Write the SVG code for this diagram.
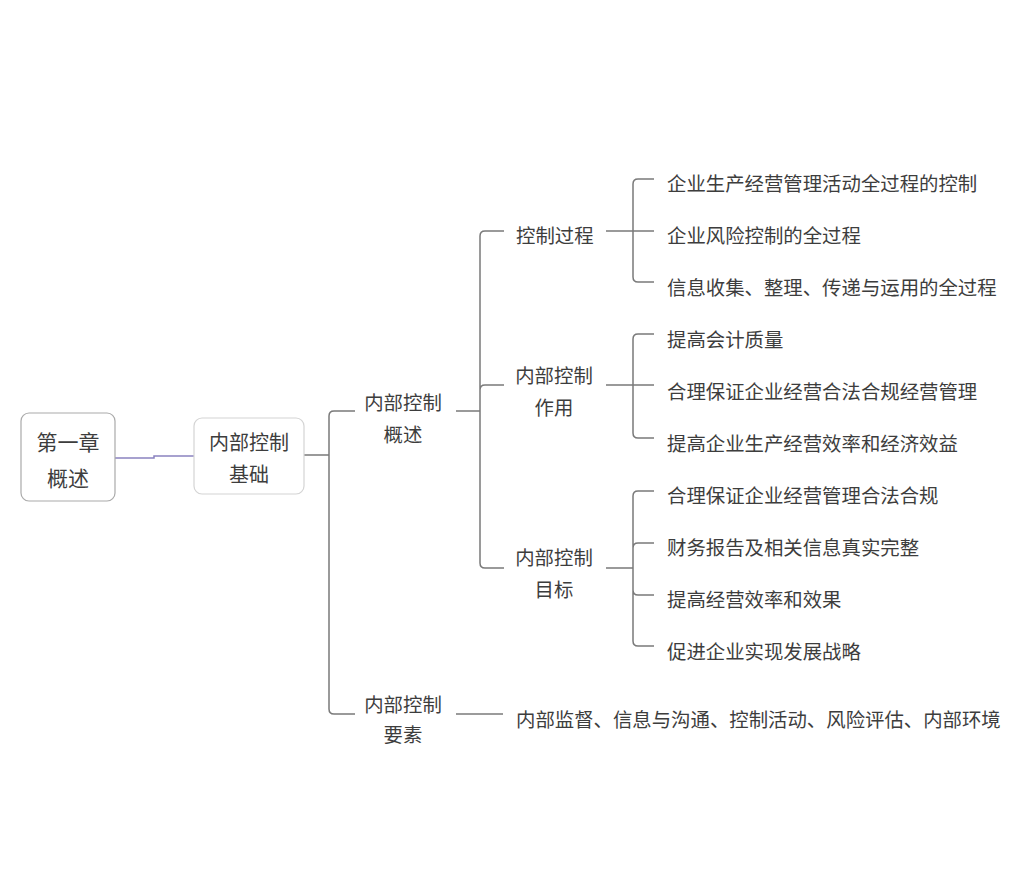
<svg xmlns="http://www.w3.org/2000/svg" width="1020" height="888" viewBox="0 0 1020 888">
<style>
text{font-family:"Noto Sans CJK SC","Microsoft YaHei",sans-serif;fill:#3d3d3d;font-size:19.4px}
.c{text-anchor:middle}
.big{font-size:20px}
.root{font-size:21px}
.ln{fill:none;stroke:#7a7a7a;stroke-width:1.5}
</style>
<rect width="1020" height="888" fill="#fff"/>
<g id="connectors">
<path d="M115,458 H154 V456 H194" fill="none" stroke="#8a82c0" stroke-width="1.5"/>
<path class="ln" d="M304,455 H329 M329,455 V416 Q329,411 334,411 H355 M329,455 V709 Q329,714 334,714 H355"/>
<path class="ln" d="M456,411 H480 M480,411 V236 Q480,231 485,231 H504 M480,411 V390 Q480,385 485,385 H504 M480,411 V563 Q480,568 485,568 H504"/>
<path class="ln" d="M606,231 H654 M633,231 V184 Q633,179 638,179 H654 M633,231 V277 Q633,282 638,282 H654"/>
<path class="ln" d="M606,385 H654 M633,385 V339 Q633,334 638,334 H654 M633,385 V433 Q633,438 638,438 H654"/>
<path class="ln" d="M606,568 H633 M633,568 V496 Q633,491 638,491 H654 M633,568 V548 Q633,543 638,543 H654 M633,568 V590 Q633,595 638,595 H654 M633,568 V641 Q633,646 638,646 H654"/>
<path class="ln" d="M456,714 H503"/>
</g>
<g id="root">
<rect x="21" y="413" width="94" height="88" rx="8" fill="#fff" stroke="#aaa" stroke-width="1.2"/>
<text class="c root" x="68" y="450">第一章</text>
<text class="c root" x="68" y="486">概述</text>
</g>
<g id="n-jichu">
<rect x="194" y="418" width="110" height="76" rx="8" fill="#fff" stroke="#d4d4d4" stroke-width="1.2"/>
<text class="c big" x="249" y="450">内部控制</text>
<text class="c big" x="249" y="482">基础</text>
</g>
<g id="n-gaishu">
<text class="c" x="403" y="410">内部控制</text>
<text class="c" x="403" y="442">概述</text>
</g>
<g id="n-yaosu">
<text class="c" x="403" y="712">内部控制</text>
<text class="c" x="403" y="742">要素</text>
</g>
<g id="n-guocheng">
<text x="516" y="243">控制过程</text>
</g>
<g id="n-zuoyong">
<text class="c" x="554" y="383">内部控制</text>
<text class="c" x="554" y="415">作用</text>
</g>
<g id="n-mubiao">
<text class="c" x="554" y="565">内部控制</text>
<text class="c" x="554" y="597">目标</text>
</g>
<g id="leaf-1"><text x="667" y="191">企业生产经营管理活动全过程的控制</text></g>
<g id="leaf-2"><text x="667" y="243">企业风险控制的全过程</text></g>
<g id="leaf-3"><text x="667" y="295">信息收集、整理、传递与运用的全过程</text></g>
<g id="leaf-4"><text x="667" y="347">提高会计质量</text></g>
<g id="leaf-5"><text x="667" y="399">合理保证企业经营合法合规经营管理</text></g>
<g id="leaf-6"><text x="667" y="451">提高企业生产经营效率和经济效益</text></g>
<g id="leaf-7"><text x="667" y="503">合理保证企业经营管理合法合规</text></g>
<g id="leaf-8"><text x="667" y="555">财务报告及相关信息真实完整</text></g>
<g id="leaf-9"><text x="667" y="607">提高经营效率和效果</text></g>
<g id="leaf-10"><text x="667" y="659">促进企业实现发展战略</text></g>
<g id="leaf-11"><text x="516" y="727">内部监督、信息与沟通、控制活动、风险评估、内部环境</text></g>
</svg>
